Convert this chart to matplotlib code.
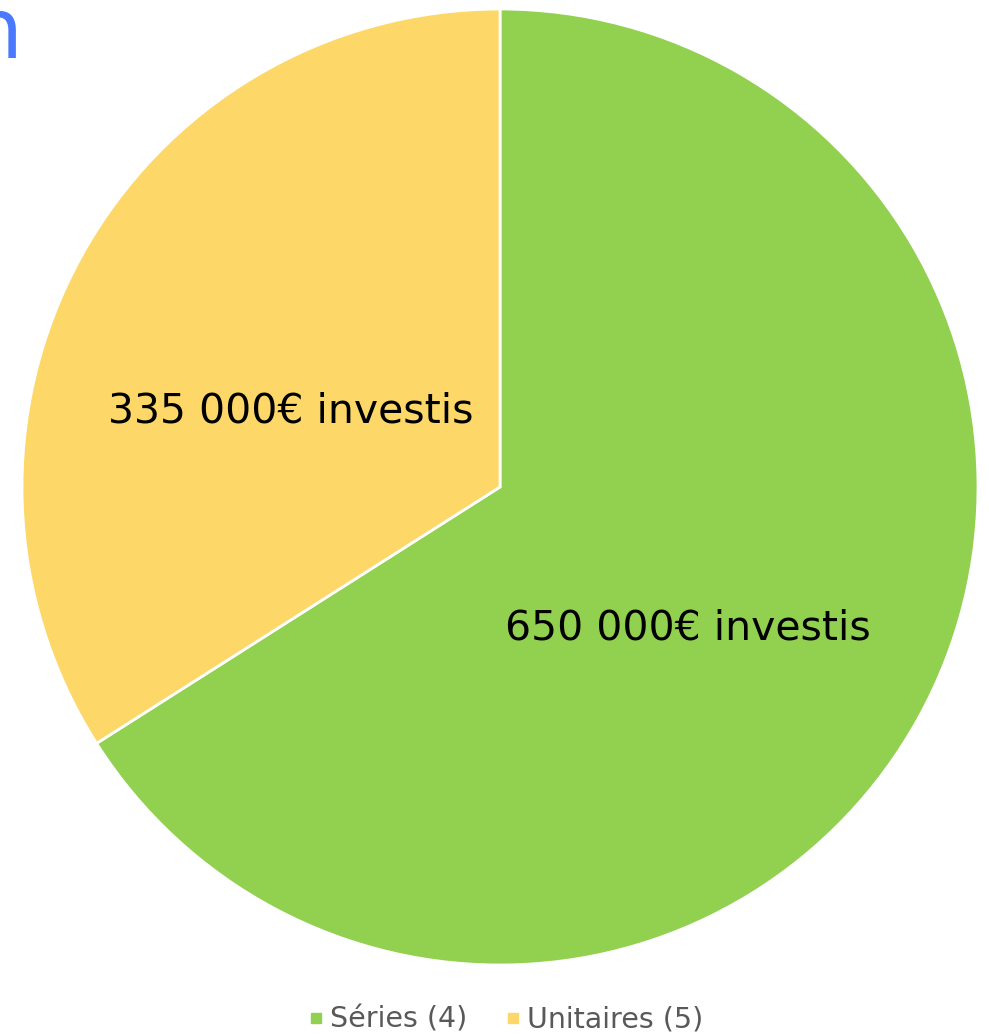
import matplotlib.pyplot as plt
from matplotlib.lines import Line2D

categories = ['Séries (4)', 'Unitaires (5)']
values = [650000, 335000]
slice_labels = ['650 000€ investis', '335 000€ investis']
colors = ['#92d050', '#fdd868']

fig = plt.figure(figsize=(9.89, 10.35), dpi=100)
ax = fig.add_axes([22 / 989, 70 / 1035, 956 / 989, 956 / 1035])

wedges, _ = ax.pie(values, colors=colors, startangle=90, counterclock=False,
                   wedgeprops=dict(edgecolor='white', linewidth=2))
ax.set_xlim(-1, 1)
ax.set_ylim(-1, 1)
ax.set_aspect('equal')

# label spots inside each slice
label_pos = [(0.393, -0.295), (-0.437, 0.157)]
for (x, y), txt in zip(label_pos, slice_labels):
    ax.text(x, y, txt, ha='center', va='center', fontsize=29.5, color='black')

handles = [Line2D([], [], marker='s', linestyle='', markersize=7,
                  markerfacecolor=c, markeredgecolor=c) for c in colors]
fig.legend(handles, categories, loc='center', bbox_to_anchor=(0.511, 0.0145),
           ncol=2, frameon=False, fontsize=20.5, labelcolor='#595959',
           handlelength=0.6, handletextpad=0.2, columnspacing=1.3,
           borderpad=0, borderaxespad=0)

# cut-off heading from the surrounding page
fig.text(-31 / 989, (1035 - 58) / 1035, 'n', fontsize=60, color='#4a78ff',
         ha='left', va='baseline')

fig.savefig('out.png', dpi=100)
